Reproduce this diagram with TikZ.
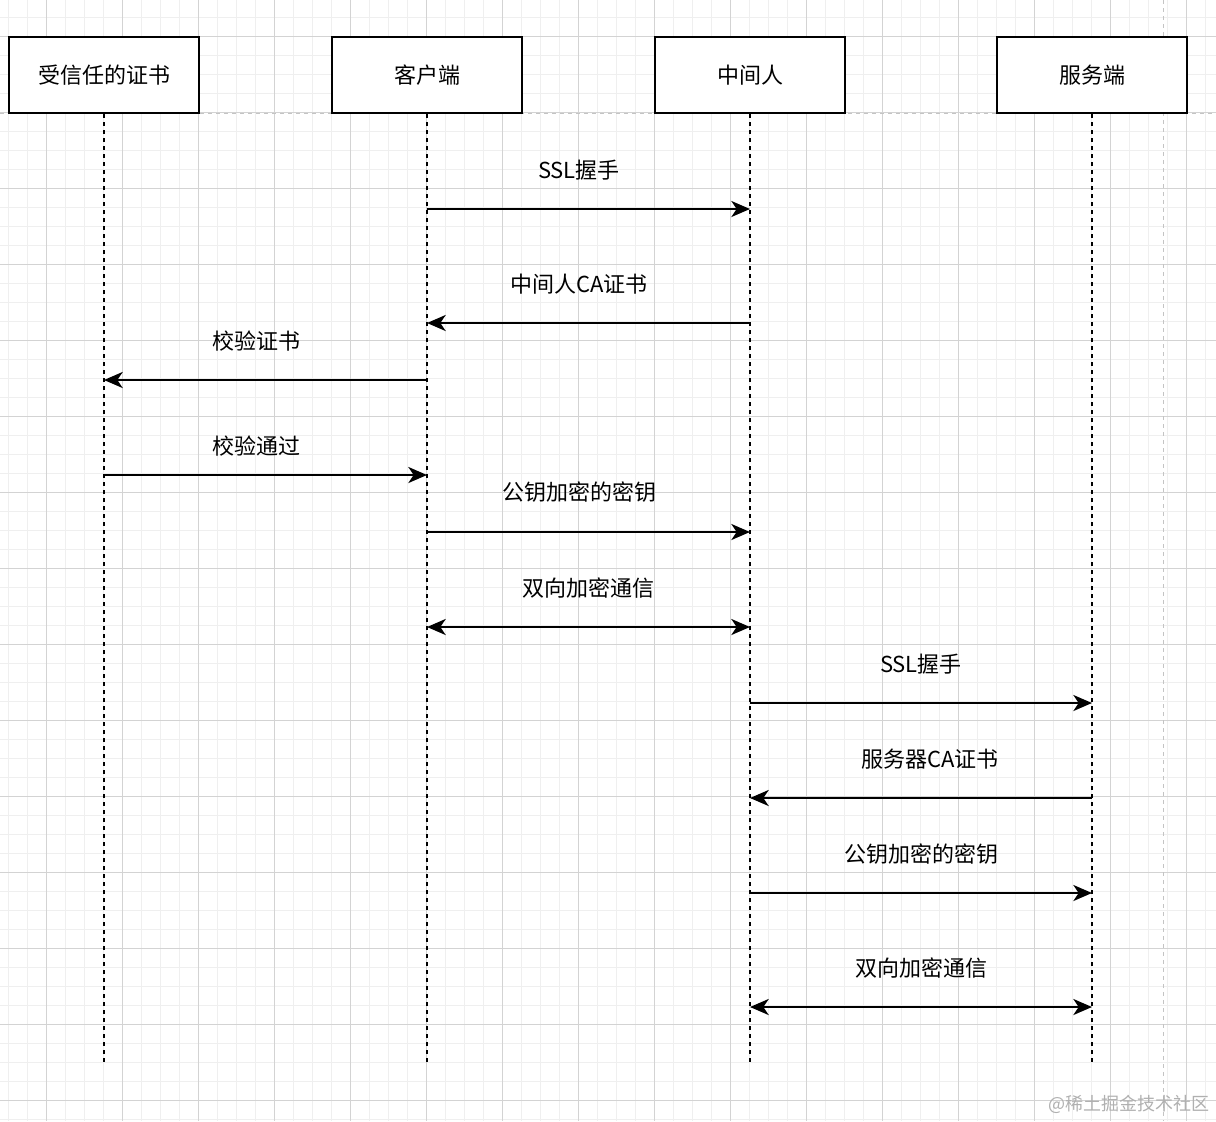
\documentclass[tikz,border=0pt]{standalone}
\usepackage{fontspec}
\setmainfont{Noto Sans CJK SC}
\usetikzlibrary{arrows.meta}
\definecolor{minorgrid}{HTML}{EFEFEF}
\definecolor{majorgrid}{HTML}{D3D3D3}
\definecolor{pagebreak}{HTML}{C4C4C4}
\definecolor{wmark}{HTML}{B0B0B0}
\begin{document}
\begin{tikzpicture}[x=0.75pt,y=-0.75pt,
  minor/.style={minorgrid,line width=0.75pt},
  major/.style={majorgrid,line width=0.75pt},
  pagebrk/.style={pagebreak,line width=0.75pt,dash pattern=on 3pt off 3pt},
  actor/.style={draw=black,line width=1.6pt,fill=white,minimum width=142.5pt,minimum height=57pt,inner sep=0pt,font=\fontsize{16.5pt}{20pt}\selectfont},
  lifeline/.style={black,line width=1.7pt,dash pattern=on 3pt off 3pt},
  msg/.style={black,line width=1.8pt,-{Stealth[length=14pt,width=12pt,inset=4pt]}},
  bimsg/.style={black,line width=1.8pt,{Stealth[length=14pt,width=12pt,inset=4pt]}-{Stealth[length=14pt,width=12pt,inset=4pt]}},
  lbl/.style={font=\fontsize{16.5pt}{20pt}\selectfont,inner sep=0pt}
]
\useasboundingbox (0,0) rectangle (1216,1121);
\fill[white] (0,0) rectangle (1216,1121);
% grid
\foreach \i in {0,...,63} \draw[minor] ({8.7+19*\i},0) -- ++(0,1121);
\foreach \i in {0,...,58} \draw[minor] (0,{17+19*\i}) -- ++(1216,0);
\foreach \i in {0,...,15} \draw[major] ({46.7+76*\i},0) -- ++(0,1121);
\foreach \i in {0,...,14} \draw[major] (0,{36+76*\i}) -- ++(1216,0);
% page break lines
\draw[pagebrk] (0,113) -- (1216,113);
\draw[pagebrk] (1163,0) -- (1163,1121);

% actors
\node[actor] (a) at (104,75) {受信任的证书};
\node[actor] (b) at (427,75) {客户端};
\node[actor] (c) at (750,75) {中间人};
\node[actor] (d) at (1092,75) {服务端};

\coordinate (ae) at (104,1063);
\coordinate (be) at (427,1063);
\coordinate (ce) at (750,1063);
\coordinate (de) at (1092,1063);

\draw[lifeline] (a.south) -- (ae);
\draw[lifeline] (b.south) -- (be);
\draw[lifeline] (c.south) -- (ce);
\draw[lifeline] (d.south) -- (de);

% messages
\draw[msg] (b |- 0,209) -- (c |- 0,209);
\node[lbl] (l1) at (579,170) {SSL握手};

\draw[msg] (c |- 0,323) -- (b |- 0,323);
\node[lbl] (l2) at (579,284) {中间人CA证书};

\draw[msg] (b |- 0,380) -- (a |- 0,380);
\node[lbl] (l3) at (256,341) {校验证书};

\draw[msg] (a |- 0,475) -- (b |- 0,475);
\node[lbl] (l4) at (256,446) {校验通过};

\draw[msg] (b |- 0,532) -- (c |- 0,532);
\node[lbl] (l5) at (579,492) {公钥加密的密钥};

\draw[bimsg] (b |- 0,627) -- (c |- 0,627);
\node[lbl] (l6) at (588,588) {双向加密通信};

\draw[msg] (c |- 0,703) -- (d |- 0,703);
\node[lbl] (l7) at (921,664) {SSL握手};

\draw[msg] (d |- 0,798) -- (c |- 0,798);
\node[lbl] (l8) at (930,759) {服务器CA证书};

\draw[msg] (c |- 0,893) -- (d |- 0,893);
\node[lbl] (l9) at (921,854) {公钥加密的密钥};

\draw[bimsg] (c |- 0,1007) -- (d |- 0,1007);
\node[lbl] (l10) at (921,968) {双向加密通信};

% watermark
\node[anchor=east,text=wmark,inner sep=0pt,font=\fontsize{13.5pt}{16pt}\selectfont] (wm) at (1210,1104) {@稀土掘金技术社区};
\end{tikzpicture}
\end{document}
